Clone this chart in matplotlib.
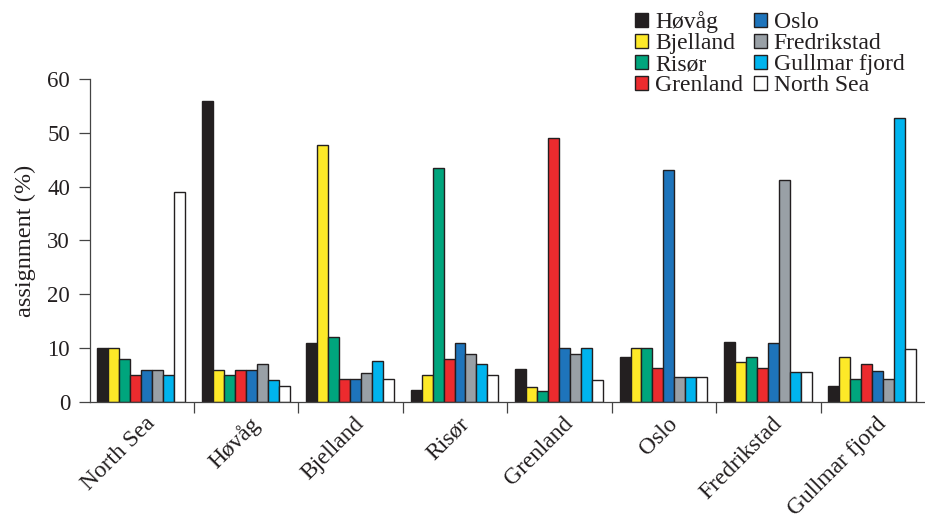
import numpy as np
import matplotlib
matplotlib.use('Agg')
import matplotlib.pyplot as plt
from matplotlib.patches import Patch

plt.rcParams['font.family'] = ['Liberation Serif', 'DejaVu Serif']

# reference populations (x groups) and source populations (bars / legend)
groups = ['North Sea', 'Høvåg', 'Bjelland', 'Risør', 'Grenland', 'Oslo', 'Fredrikstad', 'Gullmar fjord']
sources = ['Høvåg', 'Bjelland', 'Risør', 'Grenland', 'Oslo', 'Fredrikstad', 'Gullmar fjord', 'North Sea']
colors = ['#231f20', '#fde928', '#00a57d', '#ec2b2e', '#1e74bb', '#99a0a6', '#00b4ee', '#ffffff']

# assignment (%) of each group to each source, one list per source
hovag = [10, 56, 11, 2.2, 6.1, 8.4, 11.2, 3]
bjelland = [10, 6, 47.8, 5, 2.8, 10.1, 7.4, 8.3]
risor = [8, 5, 12, 43.5, 2, 10.1, 8.3, 4.2]
grenland = [5, 6, 4.3, 7.9, 49, 6.4, 6.4, 7]
oslo = [6, 6, 4.3, 10.9, 10, 43.1, 11, 5.7]
fredrikstad = [6, 7, 5.4, 8.9, 9, 4.6, 41.3, 4.2]
gullmar = [5, 4, 7.6, 7, 10, 4.6, 5.6, 52.8]
northsea = [39, 3, 4.3, 5, 4, 4.6, 5.6, 9.8]
values = [hovag, bjelland, risor, grenland, oslo, fredrikstad, gullmar, northsea]

fig = plt.figure(figsize=(9.25, 5.21), dpi=100)
ax = fig.add_axes([0.0968, 0.2284, 0.9032, 0.62])

w = 0.105
x = np.arange(len(groups))
for j, (vals, c) in enumerate(zip(values, colors)):
    ax.bar(x + 0.075 + j * w, vals, width=w, align='edge', color=c,
           edgecolor='#231f20', linewidth=1.0)

ax.set_xlim(0, 8)
ax.set_ylim(0, 60)
ax.set_yticks(range(0, 61, 10))
ax.tick_params(axis='y', labelsize=16.5, direction='out', length=8, width=0.9,
               color='#444444', pad=6, labelcolor='#231f20')
ax.set_ylabel('assignment (%)', fontsize=17.5, color='#231f20', labelpad=8)

# group boundaries get the tick marks, group names sit a little right of centre
ax.set_xticks(range(1, 8))
ax.set_xticklabels([])
ax.tick_params(axis='x', which='major', direction='out', length=8, width=0.9, color='#444444')
ax.set_xticks(x + 0.53, minor=True)
ax.set_xticklabels(groups, minor=True, rotation=45, ha='right', va='top',
                   rotation_mode='anchor', fontsize=16.8, color='#231f20')
ax.tick_params(axis='x', which='minor', length=0, pad=8)

for s in ['top', 'right']:
    ax.spines[s].set_visible(False)
for s in ['left', 'bottom']:
    ax.spines[s].set_color('#444444')
    ax.spines[s].set_linewidth(0.9)

handles = [Patch(facecolor=c, edgecolor='#231f20', linewidth=1.0) for c in colors]
fig.legend(handles, sources, loc='upper left', bbox_to_anchor=(0.666, 1.015), ncol=2,
           frameon=False, fontsize=17, handlelength=0.55, handleheight=0.55,
           handletextpad=0.3, columnspacing=0.45, labelspacing=0.0, borderpad=0.3,
           labelcolor='#231f20')

fig.savefig('out.png', dpi=100)
